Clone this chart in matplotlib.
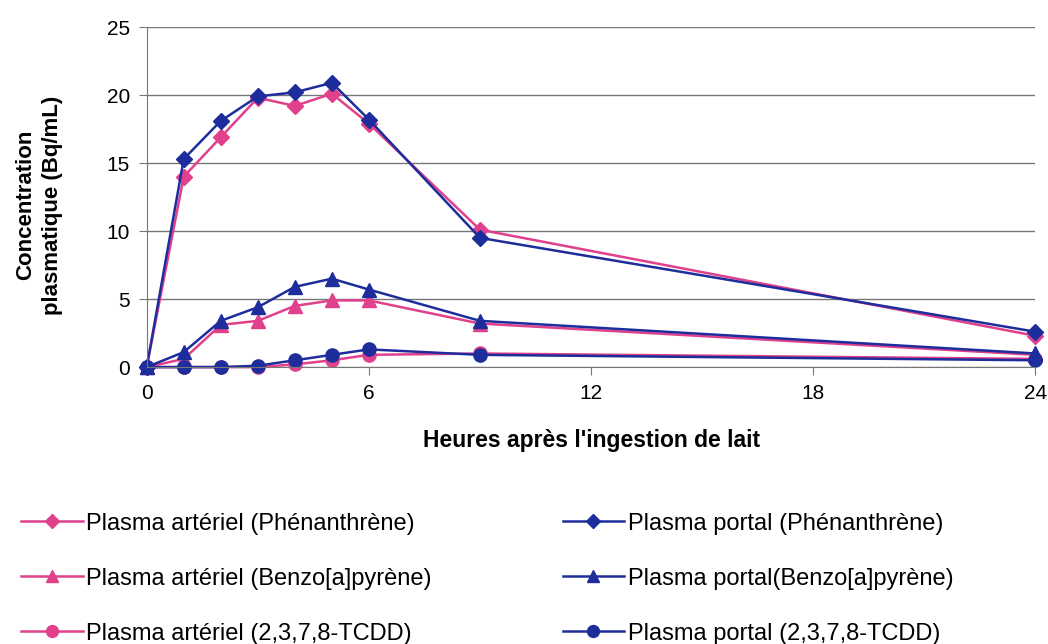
import matplotlib.pyplot as plt

plt.rcParams['font.family'] = ['Liberation Sans', 'DejaVu Sans']

hours = [0, 1, 2, 3, 4, 5, 6, 9, 24]

art_phen = [0, 14.0, 16.9, 19.8, 19.2, 20.1, 17.9, 10.1, 2.3]
port_phen = [0, 15.3, 18.1, 19.9, 20.2, 20.9, 18.2, 9.5, 2.6]
art_bap = [0, 0.6, 3.1, 3.4, 4.5, 4.9, 4.9, 3.2, 0.9]
port_bap = [0, 1.1, 3.4, 4.4, 5.9, 6.5, 5.7, 3.4, 1.0]
art_tcdd = [0, 0, 0, 0, 0.2, 0.5, 0.9, 1.0, 0.6]
port_tcdd = [0, 0, 0, 0.1, 0.5, 0.9, 1.3, 0.9, 0.5]

labels = ['Plasma artériel (Phénanthrène)', 'Plasma artériel (Benzo[a]pyrène)',
          'Plasma artériel (2,3,7,8-TCDD)', 'Plasma portal (Phénanthrène)',
          'Plasma portal(Benzo[a]pyrène)', 'Plasma portal (2,3,7,8-TCDD)']

pink = '#e0408c'
blue = '#1e2d9c'

fig = plt.figure(figsize=(10.48, 6.44), dpi=100)
ax = fig.add_axes([0.140, 0.430, 0.848, 0.528])

# arterial first so portal sits on top
ax.plot(hours, art_phen, color=pink, marker='D', markersize=8, lw=1.8, label=labels[0])
ax.plot(hours, art_bap, color=pink, marker='^', markersize=10, lw=1.8, label=labels[1])
ax.plot(hours, art_tcdd, color=pink, marker='o', markersize=9.5, lw=1.8, label=labels[2])
ax.plot(hours, port_phen, color=blue, marker='D', markersize=8, lw=1.8, label=labels[3])
ax.plot(hours, port_bap, color=blue, marker='^', markersize=10, lw=1.8, label=labels[4])
ax.plot(hours, port_tcdd, color=blue, marker='o', markersize=9.5, lw=1.8, label=labels[5])

ax.set_xlim(0, 24)
ax.set_ylim(0, 25)
ax.set_xticks([0, 6, 12, 18, 24])
ax.set_yticks([0, 5, 10, 15, 20, 25])
ax.yaxis.grid(True, color='#777777', lw=1)
ax.set_axisbelow(True)
for s in ['top', 'right']:
    ax.spines[s].set_visible(False)
ax.spines['left'].set_color('#777777')
ax.spines['bottom'].set_color('#777777')
ax.tick_params(axis='both', labelsize=15, color='#777777', length=6, pad=6)
for ln in ax.get_lines():
    ln.set_clip_on(False)

ax.set_xlabel("Heures après l'ingestion de lait", fontsize=16.5, fontweight='bold', va='center')
ax.xaxis.set_label_coords(0.5, -0.215)
ax.set_ylabel('Concentration\nplasmatique (Bq/mL)', fontsize=16, fontweight='bold',
              va='center', linespacing=1.35)
ax.yaxis.set_label_coords(-0.1215, 0.476)

handles, lbls = ax.get_legend_handles_labels()
fig.legend(handles, lbls, ncol=2, loc='upper left', bbox_to_anchor=(0.0, 0.237),
           frameon=False, fontsize=17, handlelength=2.6, handletextpad=0.15,
           labelspacing=1.4, columnspacing=5.55, markerscale=0.9)

fig.savefig('out.png', dpi=100)
